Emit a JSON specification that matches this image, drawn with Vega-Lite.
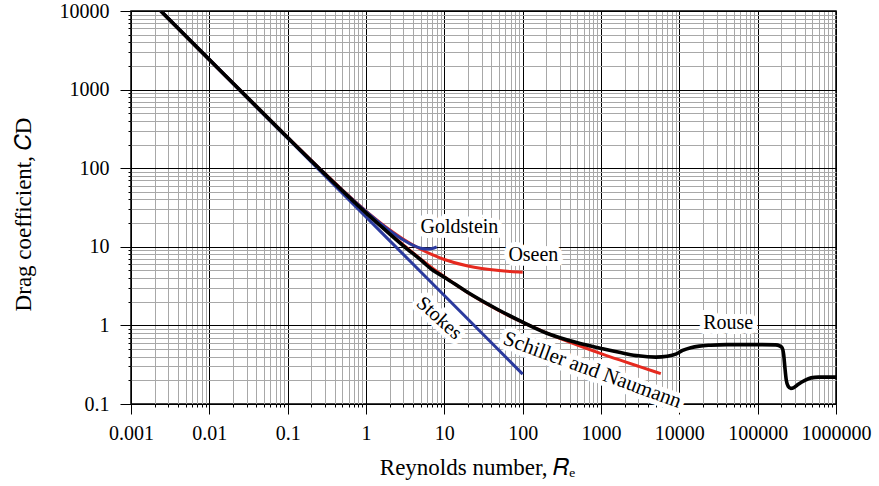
{
  "$schema": "https://vega.github.io/schema/vega-lite/v6.json",
  "width": 705,
  "height": 393,
  "autosize": {"type": "none"},
  "padding": {"left": 131, "top": 11, "right": 43, "bottom": 82},
  "background": "white",
  "config": {
    "font": "Liberation Serif",
    "view": {"stroke": "black", "strokeWidth": 1.5},
    "axis": {
      "domain": false,
      "labelFont": "Liberation Serif",
      "labelFontSize": 20,
      "labelColor": "black",
      "titleFont": "Liberation Serif",
      "titleFontSize": 23,
      "titleFontWeight": "normal",
      "titleColor": "black",
      "tickColor": "black",
      "gridWidth": 1,
      "labelOverlap": false,
      "labelBound": false,
      "labelFlush": false
    }
  },
  "datasets": {
    "curves": [
      {"series": "Stokes", "Re": 0.0024, "CD": 10000},
      {"series": "Stokes", "Re": 0.01, "CD": 2400},
      {"series": "Stokes", "Re": 0.1, "CD": 240},
      {"series": "Stokes", "Re": 1, "CD": 24},
      {"series": "Stokes", "Re": 10, "CD": 2.4},
      {"series": "Stokes", "Re": 100, "CD": 0.24},
      {"series": "Goldstein", "Re": 0.0024, "CD": 10004.5},
      {"series": "Goldstein", "Re": 0.01, "CD": 2404.5},
      {"series": "Goldstein", "Re": 0.1, "CD": 244.5},
      {"series": "Goldstein", "Re": 0.3, "CD": 84.4},
      {"series": "Goldstein", "Re": 0.5, "CD": 52.3},
      {"series": "Goldstein", "Re": 1, "CD": 28.23},
      {"series": "Goldstein", "Re": 1.5, "CD": 20.15},
      {"series": "Goldstein", "Re": 2, "CD": 16.12},
      {"series": "Goldstein", "Re": 3, "CD": 12.18},
      {"series": "Goldstein", "Re": 4, "CD": 10.41},
      {"series": "Goldstein", "Re": 5, "CD": 9.6},
      {"series": "Goldstein", "Re": 6, "CD": 9.36},
      {"series": "Goldstein", "Re": 7, "CD": 9.51},
      {"series": "Goldstein", "Re": 8, "CD": 9.98},
      {"series": "Oseen", "Re": 0.0024, "CD": 10004.5},
      {"series": "Oseen", "Re": 0.01, "CD": 2404.5},
      {"series": "Oseen", "Re": 0.1, "CD": 244.5},
      {"series": "Oseen", "Re": 0.3, "CD": 84.5},
      {"series": "Oseen", "Re": 1, "CD": 28.5},
      {"series": "Oseen", "Re": 2, "CD": 16.5},
      {"series": "Oseen", "Re": 3, "CD": 12.5},
      {"series": "Oseen", "Re": 5, "CD": 9.3},
      {"series": "Oseen", "Re": 7, "CD": 7.93},
      {"series": "Oseen", "Re": 10, "CD": 6.9},
      {"series": "Oseen", "Re": 20, "CD": 5.7},
      {"series": "Oseen", "Re": 30, "CD": 5.3},
      {"series": "Oseen", "Re": 50, "CD": 4.98},
      {"series": "Oseen", "Re": 70, "CD": 4.84},
      {"series": "Oseen", "Re": 100, "CD": 4.74},
      {"series": "Schiller and Naumann", "Re": 0.0024, "CD": 10024},
      {"series": "Schiller and Naumann", "Re": 0.01, "CD": 2415},
      {"series": "Schiller and Naumann", "Re": 0.1, "CD": 247.4},
      {"series": "Schiller and Naumann", "Re": 0.3, "CD": 85.25},
      {"series": "Schiller and Naumann", "Re": 1, "CD": 27.6},
      {"series": "Schiller and Naumann", "Re": 2, "CD": 14.9},
      {"series": "Schiller and Naumann", "Re": 3, "CD": 10.55},
      {"series": "Schiller and Naumann", "Re": 5, "CD": 6.98},
      {"series": "Schiller and Naumann", "Re": 10, "CD": 4.15},
      {"series": "Schiller and Naumann", "Re": 20, "CD": 2.61},
      {"series": "Schiller and Naumann", "Re": 50, "CD": 1.54},
      {"series": "Schiller and Naumann", "Re": 100, "CD": 1.09},
      {"series": "Schiller and Naumann", "Re": 200, "CD": 0.806},
      {"series": "Schiller and Naumann", "Re": 500, "CD": 0.563},
      {"series": "Schiller and Naumann", "Re": 1000, "CD": 0.438},
      {"series": "Schiller and Naumann", "Re": 2000, "CD": 0.346},
      {"series": "Schiller and Naumann", "Re": 3000, "CD": 0.302},
      {"series": "Schiller and Naumann", "Re": 5000, "CD": 0.255},
      {"series": "Schiller and Naumann", "Re": 5800, "CD": 0.243},
      {"series": "Rouse", "Re": 0.0024, "CD": 10000},
      {"series": "Rouse", "Re": 0.01, "CD": 2405},
      {"series": "Rouse", "Re": 0.1, "CD": 245},
      {"series": "Rouse", "Re": 0.3, "CD": 84},
      {"series": "Rouse", "Re": 1, "CD": 27},
      {"series": "Rouse", "Re": 2, "CD": 14.6},
      {"series": "Rouse", "Re": 3, "CD": 10.3},
      {"series": "Rouse", "Re": 5, "CD": 6.8},
      {"series": "Rouse", "Re": 7, "CD": 5.1},
      {"series": "Rouse", "Re": 10, "CD": 4.1},
      {"series": "Rouse", "Re": 20, "CD": 2.62},
      {"series": "Rouse", "Re": 50, "CD": 1.56},
      {"series": "Rouse", "Re": 100, "CD": 1.1},
      {"series": "Rouse", "Re": 200, "CD": 0.8},
      {"series": "Rouse", "Re": 500, "CD": 0.6},
      {"series": "Rouse", "Re": 1000, "CD": 0.51},
      {"series": "Rouse", "Re": 2000, "CD": 0.44},
      {"series": "Rouse", "Re": 3000, "CD": 0.41},
      {"series": "Rouse", "Re": 5000, "CD": 0.395},
      {"series": "Rouse", "Re": 7000, "CD": 0.405},
      {"series": "Rouse", "Re": 9000, "CD": 0.43},
      {"series": "Rouse", "Re": 11000, "CD": 0.48},
      {"series": "Rouse", "Re": 14000, "CD": 0.52},
      {"series": "Rouse", "Re": 18000, "CD": 0.545},
      {"series": "Rouse", "Re": 25000, "CD": 0.56},
      {"series": "Rouse", "Re": 40000, "CD": 0.57},
      {"series": "Rouse", "Re": 100000, "CD": 0.57},
      {"series": "Rouse", "Re": 170000, "CD": 0.565},
      {"series": "Rouse", "Re": 190000, "CD": 0.55},
      {"series": "Rouse", "Re": 205000, "CD": 0.52},
      {"series": "Rouse", "Re": 215000, "CD": 0.42},
      {"series": "Rouse", "Re": 222000, "CD": 0.3},
      {"series": "Rouse", "Re": 232000, "CD": 0.2},
      {"series": "Rouse", "Re": 245000, "CD": 0.168},
      {"series": "Rouse", "Re": 265000, "CD": 0.158},
      {"series": "Rouse", "Re": 290000, "CD": 0.162},
      {"series": "Rouse", "Re": 330000, "CD": 0.178},
      {"series": "Rouse", "Re": 400000, "CD": 0.2},
      {"series": "Rouse", "Re": 480000, "CD": 0.215},
      {"series": "Rouse", "Re": 600000, "CD": 0.22},
      {"series": "Rouse", "Re": 1000000, "CD": 0.22}
    ],
    "labels": [
      {"label": "Goldstein", "Re": 15.6, "CD": 17.7},
      {"label": "Oseen", "Re": 137, "CD": 7.87},
      {"label": "Rouse", "Re": 42000, "CD": 1.06}
    ],
    "stokesLabel": [
      {"label": "Stokes", "Re": 8.6, "CD": 1.24}
    ],
    "snLabel": [
      {"label": "Schiller and Naumann", "Re": 774, "CD": 0.268}
    ]
  },
  "encoding": {
    "x": {
      "field": "Re",
      "type": "quantitative",
      "scale": {"type": "log", "domain": [0.001, 1000000], "nice": false},
      "axis": {
        "title": "Reynolds number, 𝑅ₑ",
        "titlePadding": 13,
        "titleX": 346,
        "labelPadding": 9,
        "values": [0.001,0.002,0.003,0.004,0.005,0.006,0.007,0.008,0.009,0.01,0.02,0.03,0.04,0.05,0.06,0.07,0.08,0.09,0.1,0.2,0.3,0.4,0.5,0.6,0.7,0.8,0.9,1,2,3,4,5,6,7,8,9,10,20,30,40,50,60,70,80,90,100,200,300,400,500,600,700,800,900,1000,2000,3000,4000,5000,6000,7000,8000,9000,10000,20000,30000,40000,50000,60000,70000,80000,90000,100000,200000,300000,400000,500000,600000,700000,800000,900000,1000000],
        "labelExpr": "abs(log(datum.value)/LN10 - round(log(datum.value)/LN10)) < 1e-6 ? '' + datum.value : ''",
        "gridColor": {"condition": {"test": "abs(log(datum.value)/LN10 - round(log(datum.value)/LN10)) < 1e-6", "value": "black"}, "value": "#a8a8a8"},
        "tickSize": {"condition": {"test": "abs(log(datum.value)/LN10 - round(log(datum.value)/LN10)) < 1e-6", "value": 10}, "value": 3}
      }
    },
    "y": {
      "field": "CD",
      "type": "quantitative",
      "scale": {"type": "log", "domain": [0.1, 10000], "nice": false},
      "axis": {
        "title": "Drag coefficient, 𝐶D",
        "titlePadding": 24,
        "titleY": 203,
        "labelPadding": 11,
        "values": [0.1,0.2,0.3,0.4,0.5,0.6,0.7,0.8,0.9,1,2,3,4,5,6,7,8,9,10,20,30,40,50,60,70,80,90,100,200,300,400,500,600,700,800,900,1000,2000,3000,4000,5000,6000,7000,8000,9000,10000],
        "labelExpr": "abs(log(datum.value)/LN10 - round(log(datum.value)/LN10)) < 1e-6 ? '' + datum.value : ''",
        "gridColor": {"condition": {"test": "abs(log(datum.value)/LN10 - round(log(datum.value)/LN10)) < 1e-6", "value": "black"}, "value": "#a8a8a8"},
        "tickSize": {"condition": {"test": "abs(log(datum.value)/LN10 - round(log(datum.value)/LN10)) < 1e-6", "value": 11}, "value": 3}
      }
    }
  },
  "layer": [
    {
      "data": {"name": "curves"},
      "transform": [{"filter": "datum.series === 'Oseen' || datum.series === 'Schiller and Naumann'"}],
      "mark": {"type": "line", "clip": true, "color": "#e62a1f", "strokeWidth": 3, "interpolate": "monotone"},
      "encoding": {"detail": {"field": "series"}}
    },
    {
      "data": {"name": "curves"},
      "transform": [{"filter": "datum.series === 'Stokes' || datum.series === 'Goldstein'"}],
      "mark": {"type": "line", "clip": true, "color": "#2b3a9e", "strokeWidth": 3, "interpolate": "monotone"},
      "encoding": {"detail": {"field": "series"}}
    },
    {
      "data": {"name": "curves"},
      "transform": [{"filter": "datum.series === 'Rouse'"}],
      "mark": {"type": "line", "clip": true, "color": "black", "strokeWidth": 3.6, "interpolate": "monotone"},
      "encoding": {"detail": {"field": "series"}}
    },
    {
      "data": {"name": "labels"},
      "mark": {"type": "text", "fontSize": 20, "align": "center", "baseline": "middle", "fill": "white", "stroke": "white", "strokeWidth": 10, "strokeJoin": "round"},
      "encoding": {"text": {"field": "label"}}
    },
    {
      "data": {"name": "labels"},
      "mark": {"type": "text", "fontSize": 20, "align": "center", "baseline": "middle", "color": "black"},
      "encoding": {"text": {"field": "label"}}
    },
    {
      "data": {"name": "stokesLabel"},
      "mark": {"type": "text", "fontSize": 20, "align": "center", "baseline": "middle", "angle": 42, "fill": "white", "stroke": "white", "strokeWidth": 10, "strokeJoin": "round"},
      "encoding": {"text": {"field": "label"}}
    },
    {
      "data": {"name": "stokesLabel"},
      "mark": {"type": "text", "fontSize": 20, "align": "center", "baseline": "middle", "angle": 42, "color": "black"},
      "encoding": {"text": {"field": "label"}}
    },
    {
      "data": {"name": "snLabel"},
      "mark": {"type": "text", "fontSize": 21, "align": "center", "baseline": "middle", "angle": 20, "fill": "white", "stroke": "white", "strokeWidth": 10, "strokeJoin": "round"},
      "encoding": {"text": {"field": "label"}}
    },
    {
      "data": {"name": "snLabel"},
      "mark": {"type": "text", "fontSize": 21, "align": "center", "baseline": "middle", "angle": 20, "color": "black"},
      "encoding": {"text": {"field": "label"}}
    }
  ]
}
